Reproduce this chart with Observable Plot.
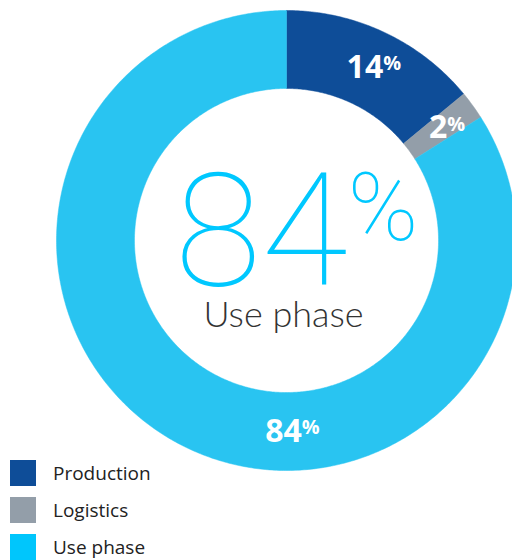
<!DOCTYPE html>
<html>
<head>
<meta charset="utf-8">
<script src="https://cdn.jsdelivr.net/npm/d3@7"></script>
<script src="https://cdn.jsdelivr.net/npm/@observablehq/plot@0.6"></script>
<style>
  html, body { margin: 0; padding: 0; background: #fff; }
  #wrap { position: relative; width: 512px; height: 560px; overflow: hidden; }
  #legend { position: absolute; left: 10px; top: 460px; font-family: "Open Sans", sans-serif; font-size: 19px; color: #222; }
  .row { display: flex; align-items: center; height: 26px; margin-bottom: 11px; }
  .sw { width: 26px; height: 26px; margin-right: 17px; }
</style>
</head>
<body>
<div id="wrap"></div>
<script>
// ---- data ----
const categories = ["Production", "Logistics", "Use phase"];
const shares = [14, 2, 84];
const centerValue = 84;
const centerLabel = "Use phase";

// ---- styling ----
const sliceColors = ["#0e4d98", "#939ea9", "#29c4f1"];
const legendColors = ["#0e4d98", "#939ea9", "#00c6fc"];
const innerRatio = 0.661;

// build slice polygons from the shares
const total = d3.sum(shares);
let acc = 0;
const slices = categories.map((c, i) => {
  const a0 = acc / total * 2 * Math.PI;
  acc += shares[i];
  const a1 = acc / total * 2 * Math.PI;
  return {name: c, value: shares[i], a0, a1};
});
const pts = [];
for (const s of slices) {
  const n = Math.max(4, Math.ceil((s.a1 - s.a0) / 0.01));
  const ring = [];
  for (let k = 0; k <= n; k++) {
    const a = s.a0 + (s.a1 - s.a0) * k / n;
    ring.push({name: s.name, x: Math.sin(a), y: Math.cos(a)});
  }
  for (let k = n; k >= 0; k--) {
    const a = s.a0 + (s.a1 - s.a0) * k / n;
    ring.push({name: s.name, x: innerRatio * Math.sin(a), y: innerRatio * Math.cos(a)});
  }
  ring.push(ring[0]);
  pts.push(...ring);
}
const rl = (1 + innerRatio) / 2;
const labels = slices.map(s => {
  // the dominant slice gets its label at the bottom of the ring
  const a = s.value > 50 ? Math.PI : (s.a0 + s.a1) / 2;
  return {text: s.value + "%", x: rl * Math.sin(a), y: rl * Math.cos(a)};
});

const chart = Plot.plot({
  width: 512,
  height: 560,
  margin: 0,
  x: {domain: [-1, 1], range: [56, 516], axis: null},
  y: {domain: [-1, 1], range: [470, 10], axis: null},
  color: {domain: categories, range: sliceColors},
  marks: [
    Plot.line(pts, {x: "x", y: "y", z: "name", fill: "name", stroke: "name", strokeWidth: 0.5, curve: "linear"}),
    Plot.text(labels, {x: "x", y: "y", text: "text", fill: "white", fontSize: 32, fontWeight: "bold",
      fontFamily: "Open Sans", dx: 6, dy: 0, lineAnchor: "middle", className: "slab"}),
    Plot.text([{x: 0, y: 0, t: centerValue + "%"}], {x: "x", y: "y", text: "t", fill: "#00c8ff", fontSize: 158,
      fontWeight: 100, fontFamily: "Roboto", dx: 10, dy: 44, lineAnchor: "bottom", className: "clab"}),
    Plot.text([{x: 0, y: 0, t: centerLabel}], {x: "x", y: "y", text: "t", fill: "#333", fontSize: 36,
      fontWeight: 300, fontFamily: "Lato", dx: -3, dy: 86, lineAnchor: "bottom"})
  ]
});

// render the % sign as a raised, smaller glyph
function superPct(sel, size, shift) {
  chart.querySelectorAll(sel + " text").forEach(t => {
    const s = t.textContent;
    if (s.endsWith("%")) {
      t.textContent = s.slice(0, -1);
      const ts = document.createElementNS("http://www.w3.org/2000/svg", "tspan");
      ts.setAttribute("font-size", size);
      ts.setAttribute("dy", shift);
      ts.textContent = "%";
      t.appendChild(ts);
    }
  });
}
superPct(".slab", "0.62em", "-0.38em");
superPct(".clab", "0.6em", "-0.47em");

const wrap = document.getElementById("wrap");
wrap.appendChild(chart);

const legend = document.createElement("div");
legend.id = "legend";
categories.forEach((c, i) => {
  const row = document.createElement("div");
  row.className = "row";
  const sw = document.createElement("div");
  sw.className = "sw";
  sw.style.background = legendColors[i];
  const lab = document.createElement("span");
  lab.textContent = c;
  row.appendChild(sw);
  row.appendChild(lab);
  legend.appendChild(row);
});
wrap.appendChild(legend);
</script>
</body>
</html>
